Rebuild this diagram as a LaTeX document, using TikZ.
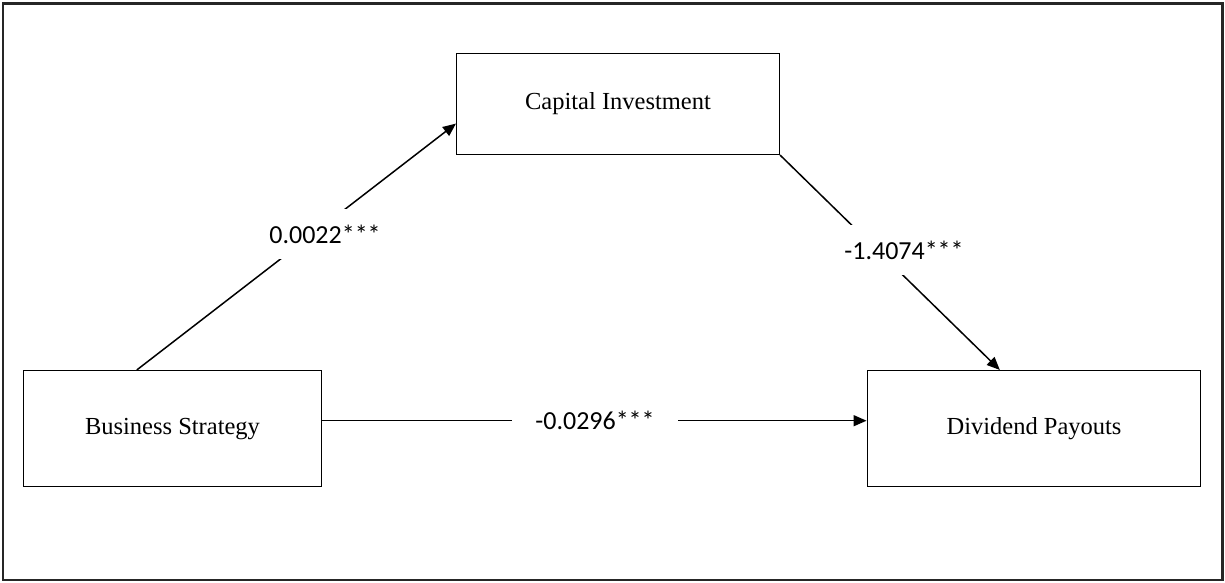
\documentclass[tikz,border=0pt]{standalone}
\usepackage{fontspec}
\setmainfont{Liberation Serif}
\newfontfamily\labelfont{Carlito}
\usetikzlibrary{arrows.meta,calc}
\tikzset{
  box/.style={draw=black, line width=1.5pt, rectangle, inner sep=0pt,
    font=\fontsize{24.5}{29}\selectfont},
  conn/.style={draw=black, line width=1.5pt, -{Triangle[length=13pt,width=11pt]}},
  plain/.style={draw=black, line width=1.5pt},
  coef/.style={fill=white, inner xsep=23pt, inner ysep=16pt, text height=18pt, text depth=0pt,
    font=\labelfont\fontsize{26}{30}\selectfont},
  frame/.style={draw=black!85, line width=2.2pt}
}
\begin{document}
\begin{tikzpicture}[x=1pt,y=-1pt]
\useasboundingbox (0,0) rectangle (1225,582);
\draw[frame] (3,3.5) rectangle (1222.5,580);
% boxes
\node[box, minimum width=322.6pt, minimum height=101pt] (ci) at (618,103.8) {Capital Investment};
\node[box, minimum width=298.4pt, minimum height=116pt] (bs) at (172.5,428.7) {Business Strategy};
\node[box, minimum width=333.4pt, minimum height=116pt] (dp) at (1034,428.7) {Dividend Payouts};
% connectors
\draw[conn] ($(bs.north west)!0.381!(bs.north east)$) -- ($(ci.north west)!0.693!(ci.south west)$);
\draw[conn] (ci.south east) -- ($(dp.north west)!0.398!(dp.north east)$);
\draw[conn] ([yshift=8pt]bs.east) -- ([yshift=8pt]dp.west);
% coefficient labels
\node[coef] (l1) at (325,234) {0.0022***};
\node[coef] (l2) at (904,250) {-1.4074***};
\node[coef] (l3) at (595,420.7) {-0.0296***};
\end{tikzpicture}
\end{document}
